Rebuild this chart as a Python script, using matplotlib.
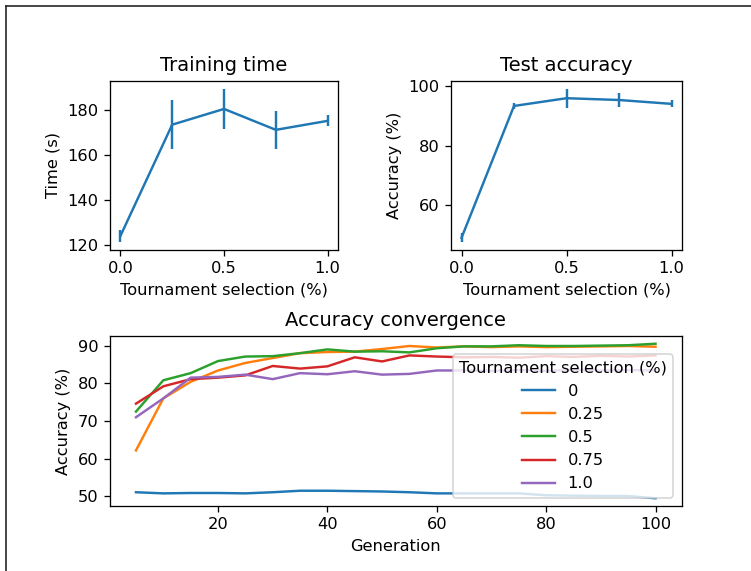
import matplotlib
matplotlib.use("Agg")
import matplotlib.pyplot as plt
from matplotlib.lines import Line2D

# ---- data ----
selection = [0.0, 0.25, 0.5, 0.75, 1.0]
train_time = [124.0, 173.5, 180.5, 171.2, 175.2]
train_time_err = [2.8, 11.0, 9.0, 8.5, 2.5]
test_acc = [49.0, 93.3, 95.9, 95.3, 94.0]
test_acc_err = [1.5, 1.1, 3.2, 2.2, 1.2]

generations = list(range(5, 101, 5))
conv_labels = ["0", "0.25", "0.5", "0.75", "1.0"]
conv_0 = [51.1, 50.8, 50.9, 50.9, 50.8, 51.1, 51.5, 51.5, 51.4, 51.3,
          51.1, 50.8, 50.8, 50.8, 50.8, 50.3, 50.2, 50.1, 50.1, 49.5]
conv_025 = [62.2, 76.0, 80.4, 83.4, 85.4, 86.7, 88.0, 88.3, 88.4, 89.1,
            89.9, 89.5, 89.8, 89.6, 89.8, 89.6, 89.7, 89.8, 89.9, 89.7]
conv_05 = [72.5, 80.8, 82.7, 85.9, 87.1, 87.2, 88.0, 89.0, 88.4, 88.5,
           88.2, 89.3, 89.8, 89.8, 90.1, 89.9, 89.9, 90.0, 90.1, 90.5]
conv_075 = [74.6, 79.2, 81.1, 81.5, 82.1, 84.6, 83.9, 84.5, 86.9, 85.8,
            87.4, 87.1, 86.9, 87.0, 86.8, 87.2, 87.0, 87.3, 87.1, 87.4]
conv_10 = [71.0, 76.0, 81.5, 81.7, 82.3, 81.1, 82.7, 82.4, 83.2, 82.3,
           82.5, 83.4, 83.4, 83.3, 83.5, 83.3, 83.6, 83.4, 83.5, 83.4]
conv_series = [conv_0, conv_025, conv_05, conv_075, conv_10]

W, H, DPI = 751, 571, 117
fig = plt.figure(figsize=(W / DPI, H / DPI), dpi=DPI)

ax1 = fig.add_axes([110 / W, (H - 250) / H, 228 / W, 169 / H])
ax2 = fig.add_axes([451 / W, (H - 250) / H, 231 / W, 169 / H])
ax3 = fig.add_axes([110 / W, (H - 506) / H, 571.5 / W, 170 / H])

ax1.errorbar(selection, train_time, yerr=train_time_err)
ax1.set_title("Training time")
ax1.set_xlabel("Tournament selection (%)")
ax1.set_ylabel("Time (s)")

ax2.errorbar(selection, test_acc, yerr=test_acc_err)
ax2.set_title("Test accuracy")
ax2.set_xlabel("Tournament selection (%)")
ax2.set_ylabel("Accuracy (%)")

for lab, ser in zip(conv_labels, conv_series):
    ax3.plot(generations, ser, label=lab)
ax3.set_title("Accuracy convergence")
ax3.set_xlabel("Generation")
ax3.set_ylabel("Accuracy (%)")
ax3.legend(title="Tournament selection (%)", loc="lower right")

# screenshot frame lines (left and top)
fig.add_artist(Line2D([6.5 / W, 6.5 / W], [0, 1 - 5.5 / H], transform=fig.transFigure,
                      color="#222222", linewidth=1.0))
fig.add_artist(Line2D([6.5 / W, 1], [1 - 5.5 / H, 1 - 5.5 / H], transform=fig.transFigure,
                      color="#222222", linewidth=1.0))

fig.savefig("out.png", dpi=DPI)
